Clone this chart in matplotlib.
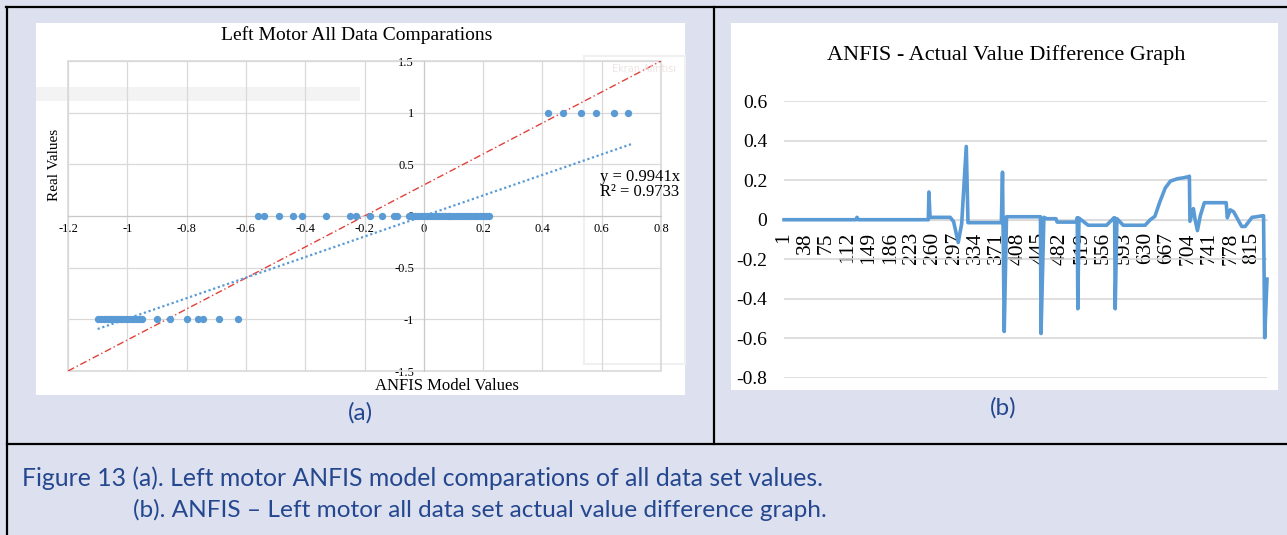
import matplotlib
matplotlib.use('Agg')
import matplotlib.pyplot as plt
from matplotlib.patches import Rectangle
from matplotlib.lines import Line2D

# ---- data (a): ANFIS model values vs real values ----
real_one_x = [0.42, 0.47, 0.53, 0.58, 0.64, 0.69]
real_zero_x = [-0.56, -0.54, -0.49, -0.44, -0.41, -0.33, -0.25, -0.23, -0.18,
               -0.14, -0.10, -0.09,
               -0.05, -0.04, -0.03, -0.02, -0.01, 0.0, 0.01, 0.02, 0.03, 0.04,
               0.05, 0.06, 0.07, 0.08, 0.09, 0.10, 0.11, 0.12, 0.13, 0.14,
               0.15, 0.16, 0.17, 0.18, 0.19, 0.20, 0.21, 0.22]
real_minus_x = [-1.10, -1.09, -1.08, -1.07, -1.06, -1.05, -1.04, -1.03, -1.02,
                -1.01, -1.00, -0.99, -0.98, -0.97, -0.96, -0.95,
                -0.90, -0.855, -0.80, -0.76, -0.745, -0.69, -0.625]
ref_x = [-1.2, 0.8]
ref_y = [-1.5, 1.5]
trend_x = [-1.1, 0.7]
trend_slope = 0.9941
trend_r2 = 0.9733
x_ticks_a = [-1.2, -1.0, -0.8, -0.6, -0.4, -0.2, 0.0, 0.2, 0.4, 0.6, 0.8]
x_labels_a = ['-1.2', '-1', '-0.8', '-0.6', '-0.4', '-0.2', '0', '0.2', '0.4', '0.6', '0.8']
y_ticks_a = [-1.5, -1.0, -0.5, 0.0, 0.5, 1.0, 1.5]
y_labels_a = ['-1.5', '-1', '-0.5', '0', '0.5', '1', '1.5']

# ---- data (b): ANFIS - actual value difference ----
diff_index = [1, 126, 128, 130, 252, 253, 255, 290, 296, 304,
              310, 318, 321, 379, 381, 384, 388, 447, 448, 453,
              458, 474, 476, 510, 511, 512, 514, 530, 562, 575,
              576, 577, 580, 591, 629, 638, 646, 655, 664, 673,
              685, 696, 705, 706, 707, 713, 716, 720, 725, 732,
              770, 772, 777, 783, 797, 803, 815, 823, 833, 835,
              837, 841]
diff_value = [0.0, 0.0, 0.012, 0.0, 0.0, 0.14, 0.012, 0.012, -0.01, -0.115,
              -0.02, 0.37, -0.015, -0.015, 0.24, -0.565, 0.015, 0.015, -0.575, 0.012,
              0.005, 0.005, -0.012, -0.012, 0.01, -0.45, 0.008, -0.028, -0.028, 0.01,
              0.01, -0.45, 0.005, -0.028, -0.028, 0.0, 0.017, 0.093, 0.16, 0.195,
              0.207, 0.212, 0.218, 0.22, -0.008, 0.056, 0.0, -0.055, 0.02, 0.086,
              0.086, 0.01, 0.05, 0.04, -0.034, -0.034, 0.012, 0.015, 0.02, 0.02,
              -0.596, -0.30]
x_ticks_b = [1, 38, 75, 112, 149, 186, 223, 260, 297, 334, 371, 408, 445, 482,
             519, 556, 593, 630, 667, 704, 741, 778, 815]
y_ticks_b = [-0.8, -0.6, -0.4, -0.2, 0.0, 0.2, 0.4, 0.6]
y_labels_b = ['-0.8', '-0.6', '-0.4', '-0.2', '0', '0.2', '0.4', '0.6']

caption_1 = 'Figure 13 (a). Left motor ANFIS model comparations of all data set values.'
caption_2 = '(b). ANFIS \u2013 Left motor all data set actual value difference graph.'

W, H = 1287, 535
SERIF = 'Liberation Serif'
BLUE = '#5B9BD5'
GRID = '#D9D9D9'
CAP = '#24478F'


def box(x0, y0, x1, y1):
    return [x0 / W, 1 - y1 / H, (x1 - x0) / W, (y1 - y0) / H]


def fx(x):
    return x / W


def fy(y):
    return 1 - y / H


fig = plt.figure(figsize=(W / 100, H / 100), dpi=100, facecolor='#DDE1EF')

# white chart panels
for x0, y0, x1, y1 in [(36, 23, 685, 395), (731, 23, 1278, 390)]:
    fig.add_artist(Rectangle((fx(x0), fy(y1)), (x1 - x0) / W, (y1 - y0) / H,
                             transform=fig.transFigure, facecolor='white',
                             edgecolor='none', zorder=-2))
# faint screenshot-tool leftovers in panel (a)
fig.add_artist(Rectangle((fx(36), fy(101)), (360 - 36) / W, 14 / H,
                         transform=fig.transFigure, facecolor='#F3F3F3',
                         edgecolor='none', zorder=-1))
fig.add_artist(Rectangle((fx(584), fy(364)), (685 - 584) / W, (364 - 56) / H,
                         transform=fig.transFigure, facecolor='none',
                         edgecolor='#F0F0F0', lw=1.5, zorder=-1))
fig.text(fx(612), fy(69), 'Ekran Al\u0131nt\u0131s\u0131', color='#ECE4E4',
         fontsize=7, family='DejaVu Sans', va='center')

# table borders
for xs, ys in [([6, W], [7, 7]), ([7, 7], [7, H]), ([714, 714], [7, 444]), ([7, W], [444, 444])]:
    fig.add_artist(Line2D([fx(v) for v in xs], [fy(v) for v in ys],
                          transform=fig.transFigure, color='black', lw=1.6))

# ---- panel (a) ----
ax1 = fig.add_axes(box(68, 61, 661, 371))
ax1.set_facecolor('none')
for s in ['top', 'right']:
    ax1.spines[s].set_visible(False)
ax1.spines['left'].set_position(('data', 0))
ax1.spines['bottom'].set_position(('data', 0))
ax1.spines['left'].set_color('#C8C8C8')
ax1.spines['bottom'].set_color('#C8C8C8')
ax1.set_xlim(-1.2, 0.8)
ax1.set_ylim(-1.5, 1.5)
ax1.set_xticks(x_ticks_a)
ax1.set_xticklabels(x_labels_a, family=SERIF, fontsize=9)
ax1.set_yticks(y_ticks_a)
ax1.set_yticklabels(y_labels_a, family=SERIF, fontsize=9)
ax1.tick_params(length=0)
ax1.tick_params(axis='x', pad=5)
ax1.tick_params(axis='y', pad=7)
ax1.grid(color=GRID, lw=0.9)
ax1.set_axisbelow(True)
ax1.add_patch(Rectangle((0, 0), 1, 1, transform=ax1.transAxes, fill=False,
                        edgecolor=GRID, lw=1.2, clip_on=False))

ax1.plot(ref_x, ref_y, color='#E2403A', lw=1.0, dashes=(5, 2, 1, 2), zorder=2)
ax1.plot(trend_x, [trend_slope * v for v in trend_x], color=BLUE, lw=1.6,
         ls=(0, (1, 1.2)), zorder=2)
ax1.scatter(real_one_x, [1] * len(real_one_x), s=28, color=BLUE, lw=0, zorder=3)
ax1.scatter(real_zero_x, [0] * len(real_zero_x), s=28, color=BLUE, lw=0, zorder=3)
ax1.scatter(real_minus_x, [-1] * len(real_minus_x), s=28, color=BLUE, lw=0, zorder=3)
ax1.text(0.595, 0.305, 'y = %.4fx\nR\u00b2 = %.4f' % (trend_slope, trend_r2),
         family=SERIF, fontsize=12, va='center', ha='left', linespacing=0.95)

fig.text(fx(357), fy(35), 'Left Motor All Data Comparations', family=SERIF,
         fontsize=14, ha='center', va='center')
fig.text(fx(55), fy(165), 'Real Values', family=SERIF, fontsize=11,
         rotation=90, ha='center', va='center')
fig.text(fx(447), fy(386), 'ANFIS Model Values', family=SERIF, fontsize=12,
         ha='center', va='center')

# ---- panel (b) ----
ax2 = fig.add_axes(box(784, 101, 1267, 378))
ax2.set_facecolor('none')
for s in ['top', 'right', 'left']:
    ax2.spines[s].set_visible(False)
ax2.spines['bottom'].set_position(('data', 0))
ax2.spines['bottom'].set_color(GRID)
ax2.set_xlim(1, 841)
ax2.set_ylim(-0.8, 0.6)
ax2.set_yticks(y_ticks_b)
ax2.set_yticklabels(y_labels_b, family=SERIF, fontsize=14)
ax2.set_xticks(x_ticks_b)
ax2.set_xticklabels([str(v) for v in x_ticks_b], family=SERIF, fontsize=15.5)
ax2.tick_params(length=0)
ax2.tick_params(axis='x', pad=9, labelrotation=90)
ax2.tick_params(axis='y', pad=12)
ax2.grid(axis='y', color=GRID, lw=1.2)
ax2.set_axisbelow(True)
ax2.plot(diff_index, diff_value, color=BLUE, lw=2.6, solid_joinstyle='round',
         clip_on=False, zorder=3)
fig.text(fx(1006), fy(55), 'ANFIS - Actual Value Difference Graph', family=SERIF,
         fontsize=16, ha='center', va='center')

# sub labels and caption
fig.text(fx(360), fy(413), '(a)', family='Lato', fontsize=17.5, color=CAP,
         ha='center', va='center')
fig.text(fx(1003), fy(408), '(b)', family='Lato', fontsize=17.5, color=CAP,
         ha='center', va='center')
fig.text(fx(22), fy(478), caption_1, family='Lato', fontsize=17.8, color=CAP,
         ha='left', va='center')
fig.text(fx(133), fy(510), caption_2, family='Lato', fontsize=17.6, color=CAP,
         ha='left', va='center')

fig.savefig('out.png', dpi=100, facecolor=fig.get_facecolor())
